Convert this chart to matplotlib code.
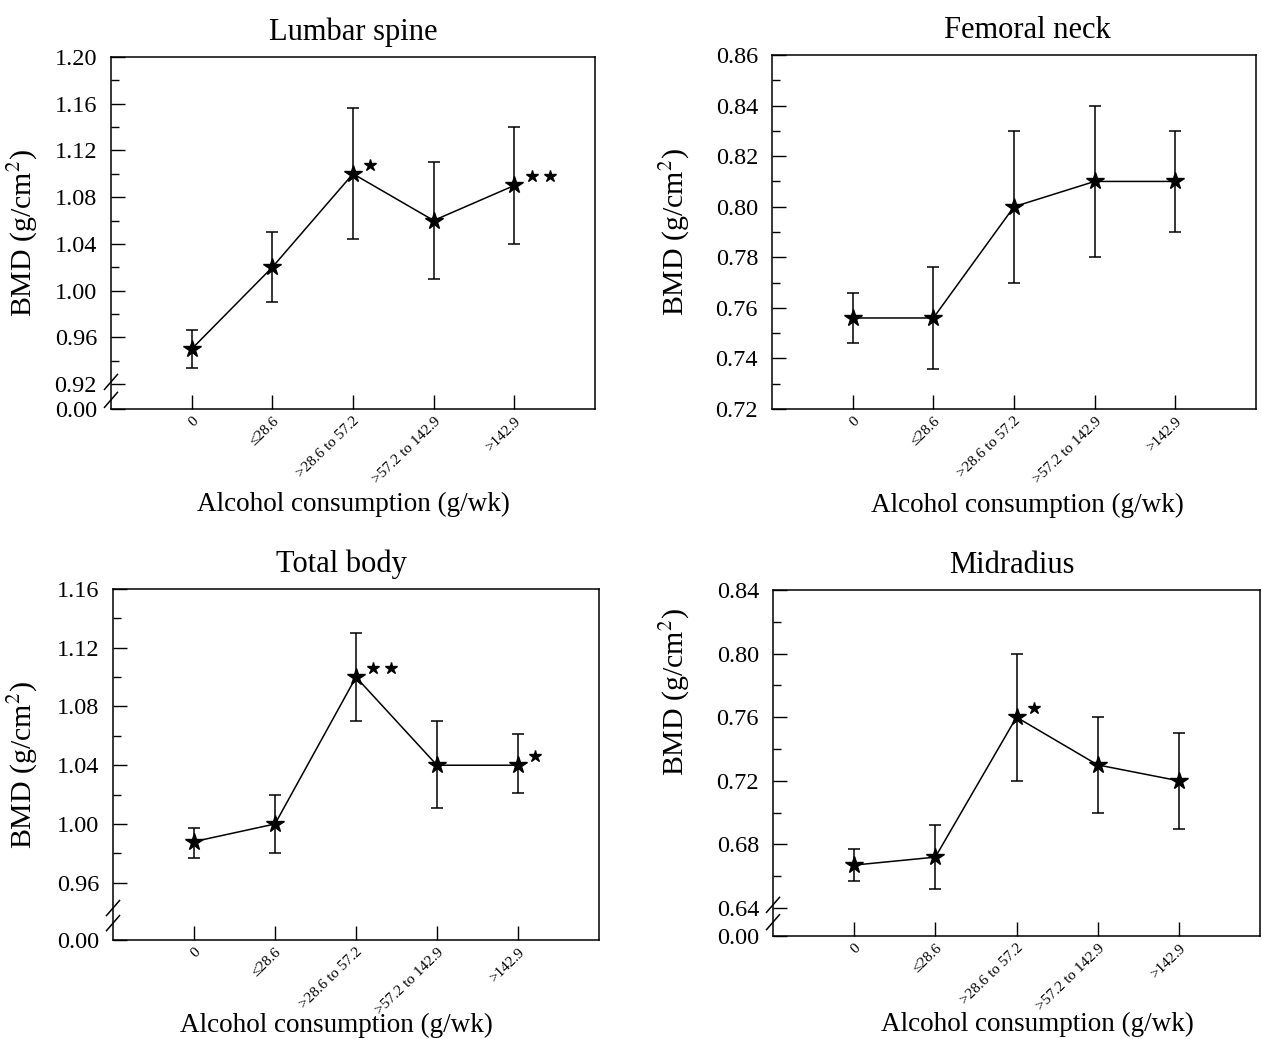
import matplotlib
matplotlib.use("Agg")
import matplotlib.pyplot as plt
import matplotlib.transforms as mtransforms
import numpy as np

# x categories: alcohol consumption (g/wk)
categories = ["0", "\u226428.6", ">28.6 to 57.2", ">57.2 to 142.9", ">142.9"]

# BMD means and error bar ends
lumbar_mean = [0.950, 1.020, 1.100, 1.060, 1.090]
lumbar_low = [0.934, 0.990, 1.044, 1.010, 1.040]
lumbar_high = [0.966, 1.050, 1.156, 1.110, 1.140]
lumbar_sig = {2: 1, 4: 2}

femoral_mean = [0.756, 0.756, 0.800, 0.810, 0.810]
femoral_low = [0.746, 0.736, 0.770, 0.780, 0.790]
femoral_high = [0.766, 0.776, 0.830, 0.840, 0.830]
femoral_sig = {}

total_mean = [0.988, 1.000, 1.100, 1.040, 1.040]
total_low = [0.977, 0.980, 1.070, 1.011, 1.021]
total_high = [0.997, 1.020, 1.130, 1.070, 1.061]
total_sig = {2: 2, 4: 1}

midradius_mean = [0.667, 0.672, 0.760, 0.730, 0.720]
midradius_low = [0.657, 0.652, 0.720, 0.700, 0.690]
midradius_high = [0.677, 0.692, 0.800, 0.760, 0.750]
midradius_sig = {2: 1}

plt.rcParams['font.family'] = ['Liberation Serif', 'DejaVu Serif']
plt.rcParams['mathtext.fontset'] = 'stix'

fig = plt.figure(figsize=(12.62, 10.39), dpi=100)
W, H = 1262, 1039


def add_axes_px(left, right, top, bottom):
    return fig.add_axes([left / W, 1 - bottom / H, (right - left) / W, (bottom - top) / H])


def draw_panel(ax, title, mean, low, high, sig, ylim, majors, minor_step,
               broken, title_x, xlabel_xy, ylabel_xy, break_ys=()):
    x = np.arange(len(categories))
    mean = np.array(mean)
    yerr = [mean - np.array(low), np.array(high) - mean]
    ax.errorbar(x, mean, yerr=yerr, color='black', lw=1.1, elinewidth=1.1,
                capsize=4.5, capthick=1.1, marker='*', ms=13, mfc='black',
                mec='black', zorder=3)

    # significance stars to the upper right of the point
    for idx, n in sig.items():
        for k in range(n):
            tr = mtransforms.offset_copy(ax.transData, fig=fig,
                                         x=12.5 + 13 * k, y=6.5, units='points')
            ax.plot(x[idx], mean[idx], marker='*', ms=9, color='black',
                    ls='none', transform=tr, clip_on=False)

    ax.set_xlim(-1, 5)
    ax.set_ylim(*ylim)

    ticks = list(majors)
    labels = [f"{t:.2f}" for t in majors]
    if broken:
        ticks = [ylim[0]] + ticks
        labels = ["0.00"] + labels
    ax.set_yticks(ticks, labels)
    minors = np.arange(majors[0], majors[-1] + 1e-9, minor_step)
    ax.set_yticks(minors, minor=True)

    ax.set_xticks(x, categories, rotation=44, ha='right', va='top',
                  rotation_mode='anchor')
    shift = mtransforms.ScaledTranslation(4 / 72, 0, fig.dpi_scale_trans)
    for lbl in ax.get_xticklabels():
        lbl.set_transform(lbl.get_transform() + shift)

    ax.tick_params(axis='y', which='major', direction='in', length=10,
                   width=1, labelsize=17.5, pad=10, right=False)
    ax.tick_params(axis='y', which='minor', direction='in', length=6,
                   width=1, right=False)
    ax.tick_params(axis='x', which='major', direction='in', length=10,
                   width=1, labelsize=11, pad=4, top=False)
    for s in ax.spines.values():
        s.set_linewidth(1.1)

    # axis break slashes on the left spine
    bb = ax.get_position()
    dx = 6.5 / (bb.width * W)
    dy = 7.5 / (bb.height * H)
    for yb in break_ys:
        ax.plot([-dx, dx], [yb - dy, yb + dy], color='black', lw=1.1,
                transform=ax.transAxes, clip_on=False)

    ax.set_title(title, fontsize=22, pad=12, x=title_x)
    ax.set_xlabel("Alcohol consumption (g/wk)", fontsize=19.5)
    ax.xaxis.set_label_coords(*xlabel_xy)
    ax.set_ylabel("BMD (g/cm$^2$)", fontsize=21.5)
    ax.yaxis.set_label_coords(*ylabel_xy)


ax1 = add_axes_px(111, 595, 57, 409)
draw_panel(ax1, "Lumbar spine", lumbar_mean, lumbar_low, lumbar_high, lumbar_sig,
           (0.8986, 1.20), [0.92, 0.96, 1.00, 1.04, 1.08, 1.12, 1.16, 1.20], 0.02,
           True, 0.5, (0.5, -0.236), (-0.147, 0.5), break_ys=(0.077, 0.026))

ax2 = add_axes_px(772, 1256, 55, 409)
draw_panel(ax2, "Femoral neck", femoral_mean, femoral_low, femoral_high, femoral_sig,
           (0.72, 0.86), [0.72, 0.74, 0.76, 0.78, 0.80, 0.82, 0.84, 0.86], 0.01,
           False, 0.527, (0.527, -0.236), (-0.165, 0.5))

ax3 = add_axes_px(113, 599, 589, 940)
draw_panel(ax3, "Total body", total_mean, total_low, total_high, total_sig,
           (0.921, 1.16), [0.96, 1.00, 1.04, 1.08, 1.12, 1.16], 0.02,
           True, 0.47, (0.46, -0.208), (-0.150, 0.5), break_ys=(0.091, 0.048))

ax4 = add_axes_px(773, 1260, 590, 936)
draw_panel(ax4, "Midradius", midradius_mean, midradius_low, midradius_high, midradius_sig,
           (0.6224, 0.84), [0.64, 0.68, 0.72, 0.76, 0.80, 0.84], 0.02,
           True, 0.49, (0.543, -0.22), (-0.166, 0.705), break_ys=(0.09, 0.04))

fig.savefig("out.png", dpi=100)
